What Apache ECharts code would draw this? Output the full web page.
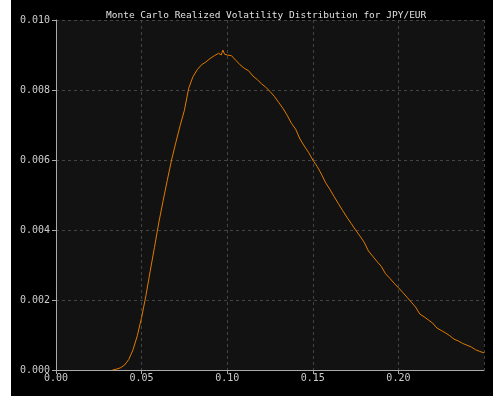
<!DOCTYPE html>
<html>
<head>
<meta charset="utf-8">
<script src="https://cdn.jsdelivr.net/npm/echarts@6/dist/echarts.min.js"></script>
<style>
html,body{margin:0;padding:0;background:#fff;width:493px;height:396px;overflow:hidden;}
#c{position:absolute;left:11px;top:0;width:482px;height:396px;background:#000;}
</style>
</head>
<body>
<div id="c"></div>
<script>
const titleText = "Monte Carlo Realized Volatility Distribution for JPY/EUR";
const volX = [0.0330,0.0350,0.0375,0.0400,0.0425,0.0450,0.0475,0.0500,0.0525,0.0550,0.0575,0.0600,0.0625,0.0650,0.0675,0.0700,0.0725,0.0750,0.0775,0.0800,0.0825,0.0850,0.0875,0.0900,0.0925,0.0950,0.0965,0.0975,0.0985,0.1000,0.1025,0.1050,0.1075,0.1100,0.1125,0.1150,0.1175,0.1200,0.1225,0.1250,0.1275,0.1300,0.1325,0.1350,0.1375,0.1400,0.1425,0.1450,0.1475,0.1500,0.1525,0.1550,0.1575,0.1600,0.1625,0.1650,0.1675,0.1700,0.1725,0.1750,0.1775,0.1800,0.1825,0.1850,0.1875,0.1900,0.1925,0.1950,0.1975,0.2000,0.2025,0.2050,0.2075,0.2100,0.2125,0.2150,0.2175,0.2200,0.2225,0.2250,0.2275,0.2300,0.2325,0.2350,0.2375,0.2400,0.2425,0.2450,0.2475,0.2500];
const density = [0,0.00002,0.00006,0.00014,0.00030,0.00058,0.00098,0.00150,0.00212,0.00282,0.00350,0.00420,0.00482,0.00542,0.00600,0.00650,0.00698,0.00742,0.00805,0.00838,0.00858,0.00872,0.00880,0.00890,0.00898,0.00905,0.00900,0.00914,0.00902,0.00900,0.00898,0.00885,0.00872,0.00862,0.00855,0.00840,0.00830,0.00818,0.00808,0.00796,0.00782,0.00765,0.00748,0.00728,0.00705,0.00688,0.00660,0.00640,0.00622,0.00600,0.00582,0.00560,0.00535,0.00516,0.00495,0.00475,0.00455,0.00436,0.00418,0.00400,0.00383,0.00365,0.00340,0.00325,0.00310,0.00296,0.00275,0.00262,0.00248,0.00235,0.00222,0.00208,0.00194,0.00180,0.00160,0.00152,0.00143,0.00134,0.00120,0.00113,0.00106,0.00098,0.00088,0.00083,0.00076,0.00071,0.00066,0.00058,0.00053,0.00049];
const xTicks = {min:0, max:0.25, step:0.05};
const yTicks = {min:0, max:0.010, step:0.002};

const FONT = "'DejaVu Sans Mono', monospace";
const chart = echarts.init(document.getElementById('c'), null, {renderer:'canvas'});
chart.setOption({
  backgroundColor:'#000',
  animation:false,
  title:{text:titleText,left:90,top:6,textStyle:{color:'#e0e0e0',fontSize:9.5,fontWeight:'normal',fontFamily:FONT}},
  grid:{left:45,right:9,top:20,bottom:26,show:true,backgroundColor:'#121212',borderWidth:0},
  xAxis:{type:'value',min:xTicks.min,max:xTicks.max,interval:xTicks.step,
    axisLine:{show:true,onZero:false,lineStyle:{color:'#aaa',width:1}},
    axisTick:{show:true,inside:false,length:4,lineStyle:{color:'#aaa'}},
    axisLabel:{color:'#ccc',fontSize:10,fontFamily:FONT,margin:3,showMaxLabel:false,formatter:v=>v.toFixed(2)},
    splitLine:{show:true,lineStyle:{color:'#444',type:[3,3],width:1}}},
  yAxis:{type:'value',min:yTicks.min,max:yTicks.max,interval:yTicks.step,
    axisLine:{show:true,onZero:false,lineStyle:{color:'#aaa',width:1}},
    axisTick:{show:true,inside:false,length:4,lineStyle:{color:'#aaa'}},
    axisLabel:{color:'#ccc',fontSize:10,fontFamily:FONT,margin:6,formatter:v=>v.toFixed(3)},
    splitLine:{show:true,lineStyle:{color:'#444',type:[3,3],width:1}}},
  series:[{type:'line',data:volX.map((x,i)=>[x,density[i]]),showSymbol:false,
    lineStyle:{color:'#e07b00',width:1},itemStyle:{color:'#e07b00'}}]
});
</script>
</body>
</html>
